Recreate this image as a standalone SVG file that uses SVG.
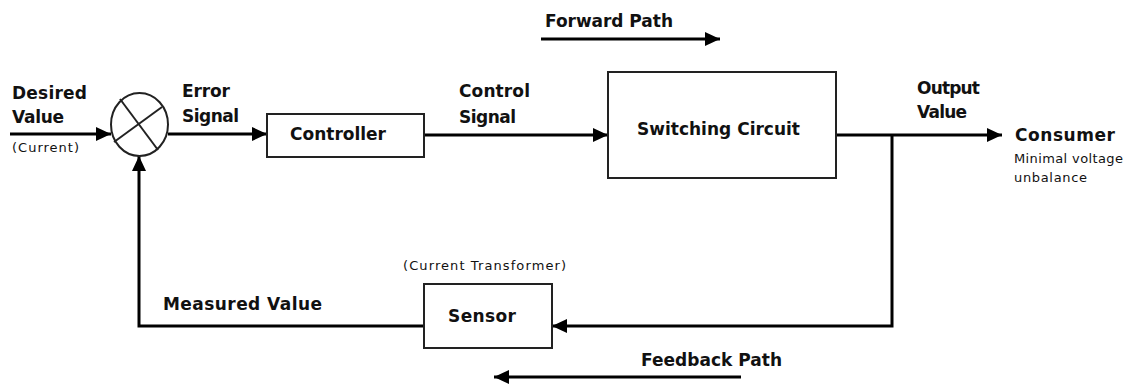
<svg xmlns="http://www.w3.org/2000/svg" width="1132" height="387" viewBox="0 0 1132 387">
<style>
.box{fill:#fff;stroke:#222;stroke-width:2}
.ln{fill:none;stroke:#000;stroke-width:3}
.b{font-family:"DejaVu Sans","Liberation Sans",sans-serif;font-weight:bold;font-size:17px;fill:#111}
.s{font-family:"DejaVu Sans","Liberation Sans",sans-serif;font-size:13px;fill:#111}
</style>
<defs>
<marker id="ah" markerUnits="userSpaceOnUse" markerWidth="16" markerHeight="16" refX="15" refY="8" orient="auto">
<path d="M0,1 L15,8 L0,15 z" fill="#000"/>
</marker>
</defs>
<rect width="1132" height="387" fill="#fff"/>
<g id="connectors">
<line class="ln" x1="10" y1="134" x2="111" y2="134" marker-end="url(#ah)"/>
<line class="ln" x1="168" y1="134" x2="267" y2="134" marker-end="url(#ah)"/>
<line class="ln" x1="424" y1="135" x2="608" y2="135" marker-end="url(#ah)"/>
<line class="ln" x1="836" y1="135" x2="1002" y2="135" marker-end="url(#ah)"/>
<polyline class="ln" points="892,135 892,326 552,326" marker-end="url(#ah)"/>
<polyline class="ln" points="424,326 139,326 139,156" marker-end="url(#ah)"/>
<line class="ln" x1="541" y1="39" x2="720" y2="39" marker-end="url(#ah)"/>
<line class="ln" x1="741" y1="377" x2="494" y2="377" marker-end="url(#ah)"/>
</g>
<g id="labels">
<text class="b" x="12" y="99" textLength="75">Desired</text>
<text class="b" x="12" y="123" textLength="52">Value</text>
<text class="s" x="12" y="152" textLength="67">(Current)</text>
<text class="b" x="182" y="97" textLength="48">Error</text>
<text class="b" x="182" y="122" textLength="57">Signal</text>
<text class="b" x="459" y="97" textLength="71">Control</text>
<text class="b" x="459" y="123" textLength="57">Signal</text>
<text class="b" x="545" y="27" textLength="128">Forward Path</text>
<text class="b" x="917" y="94" textLength="63">Output</text>
<text class="b" x="917" y="118" textLength="50">Value</text>
<text class="b" x="1015" y="141" textLength="100">Consumer</text>
<text class="s" x="1014" y="163" textLength="109">Minimal voltage</text>
<text class="s" x="1014" y="182" textLength="73">unbalance</text>
<text class="s" x="403" y="270" textLength="163">(Current Transformer)</text>
<text class="b" x="163" y="310" textLength="159">Measured Value</text>
<text class="b" x="641" y="366" textLength="141">Feedback Path</text>
</g>
<g id="sum">
<ellipse cx="139.5" cy="124.5" rx="28.5" ry="31.5" fill="#fff" stroke="#222" stroke-width="2"/>
<line x1="120" y1="99" x2="158" y2="150" stroke="#222" stroke-width="2"/>
<line x1="162" y1="107" x2="114" y2="142" stroke="#222" stroke-width="2"/>
</g>
<g id="controller">
<rect class="box" x="267" y="114" width="157" height="43"/>
<text class="b" x="290" y="140" textLength="96">Controller</text>
</g>
<g id="switching">
<rect class="box" x="608" y="72" width="228" height="106"/>
<text class="b" x="637" y="135" textLength="163">Switching Circuit</text>
</g>
<g id="sensor">
<rect class="box" x="424" y="284" width="128" height="64"/>
<text class="b" x="448" y="322" textLength="68">Sensor</text>
</g>
</svg>
